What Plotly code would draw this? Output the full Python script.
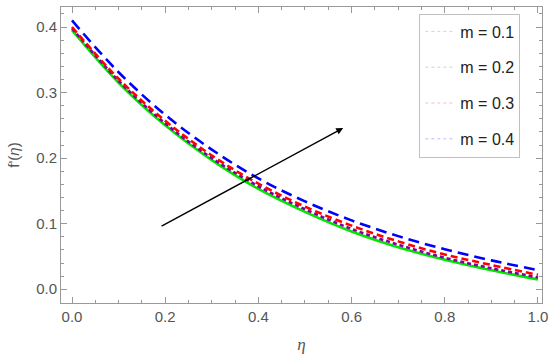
import plotly.graph_objects as go

eta = [0.0, 0.1, 0.2, 0.3, 0.4, 0.5, 0.6, 0.7, 0.8, 0.9, 1.0]
f_m01 = [0.395, 0.315, 0.250, 0.197, 0.153, 0.118, 0.088, 0.064, 0.045, 0.029, 0.015]
f_m02 = [0.398, 0.318, 0.253, 0.200, 0.157, 0.122, 0.092, 0.068, 0.048, 0.032, 0.018]
f_m03 = [0.400, 0.321, 0.257, 0.204, 0.161, 0.126, 0.097, 0.073, 0.053, 0.037, 0.022]
f_m04 = [0.410, 0.331, 0.266, 0.213, 0.169, 0.134, 0.105, 0.081, 0.061, 0.044, 0.029]
labels = ["m = 0.1", "m = 0.2", "m = 0.3", "m = 0.4"]
arrow_tail = (0.189, 0.095)
arrow_head = (0.582, 0.246)

series = [f_m01, f_m02, f_m03, f_m04]
colors = ["rgb(0,230,0)", "rgb(128,0,160)", "rgb(255,0,0)", "rgb(0,0,255)"]
dashes = ["solid", "4px,3px", "7px,4px", "11px,6px"]
legend_colors = ["rgba(0,230,0,0.35)", "rgba(200,80,160,0.35)", "rgba(255,60,60,0.35)", "rgba(60,60,255,0.35)"]

fig = go.Figure()
for ys, c, d in zip(series, colors, dashes):
    fig.add_trace(go.Scatter(x=eta, y=ys, mode="lines", line=dict(color=c, width=2.6, dash=d, shape="spline"),
                             showlegend=False, hoverinfo="skip"))
for i, (lab, lc) in enumerate(zip(labels, legend_colors)):
    fig.add_trace(go.Scatter(x=[None], y=[None], mode="lines", name=lab, legendgroup=str(i),
                             line=dict(color=lc, width=1, dash="dot")))

fig.add_annotation(x=arrow_head[0], y=arrow_head[1], ax=arrow_tail[0], ay=arrow_tail[1],
                   xref="x", yref="y", axref="x", ayref="y", text="", showarrow=True,
                   arrowhead=2, arrowsize=1.0, arrowwidth=1.4, arrowcolor="black")

axis_common = dict(showline=True, linecolor="#999999", linewidth=1, mirror="allticks", ticks="inside",
                   tickcolor="#999999", ticklen=6, tickwidth=1, showgrid=False, zeroline=False, automargin=False,
                   tickfont=dict(family="Liberation Sans, Arial", size=15, color="#555555"))
fig.update_xaxes(**axis_common, range=[-0.0236, 1.0086], tickvals=[0, 0.2, 0.4, 0.6, 0.8, 1.0],
                 ticktext=["0.0", "0.2", "0.4", "0.6", "0.8", "1.0"],
                 minor=dict(dtick=0.05, tick0=0, ticks="inside", ticklen=3, tickcolor="#999999"),
                 title=dict(text="<i>η</i>", font=dict(family="Liberation Serif, Times New Roman", size=17, color="#555555"), standoff=14))
fig.update_yaxes(**axis_common, range=[-0.021, 0.4305], tickvals=[0, 0.1, 0.2, 0.3, 0.4],
                 ticktext=["0.0", "0.1", "0.2", "0.3", "0.4"],
                 minor=dict(dtick=0.02, tick0=0, ticks="inside", ticklen=3, tickcolor="#999999"),
                 title=dict(text="f'(<i>η</i>)", font=dict(family="Liberation Sans, Arial", size=15, color="#555555"), standoff=12))

fig.update_layout(width=550, height=364, margin=dict(l=61, r=8, t=7, b=61),
                  plot_bgcolor="white", paper_bgcolor="white",
                  legend=dict(x=0.745, y=0.978, xanchor="left", yanchor="top",
                              bordercolor="#c0c0c0", borderwidth=1, bgcolor="white",
                              font=dict(family="Liberation Sans, Arial", size=16, color="#222222"),
                              tracegroupgap=12, itemwidth=30, entrywidth=70))
fig.write_html("out.html", config={"displayModeBar": False},
               post_script="document.body.style.margin='0';document.body.style.overflow='hidden';")
